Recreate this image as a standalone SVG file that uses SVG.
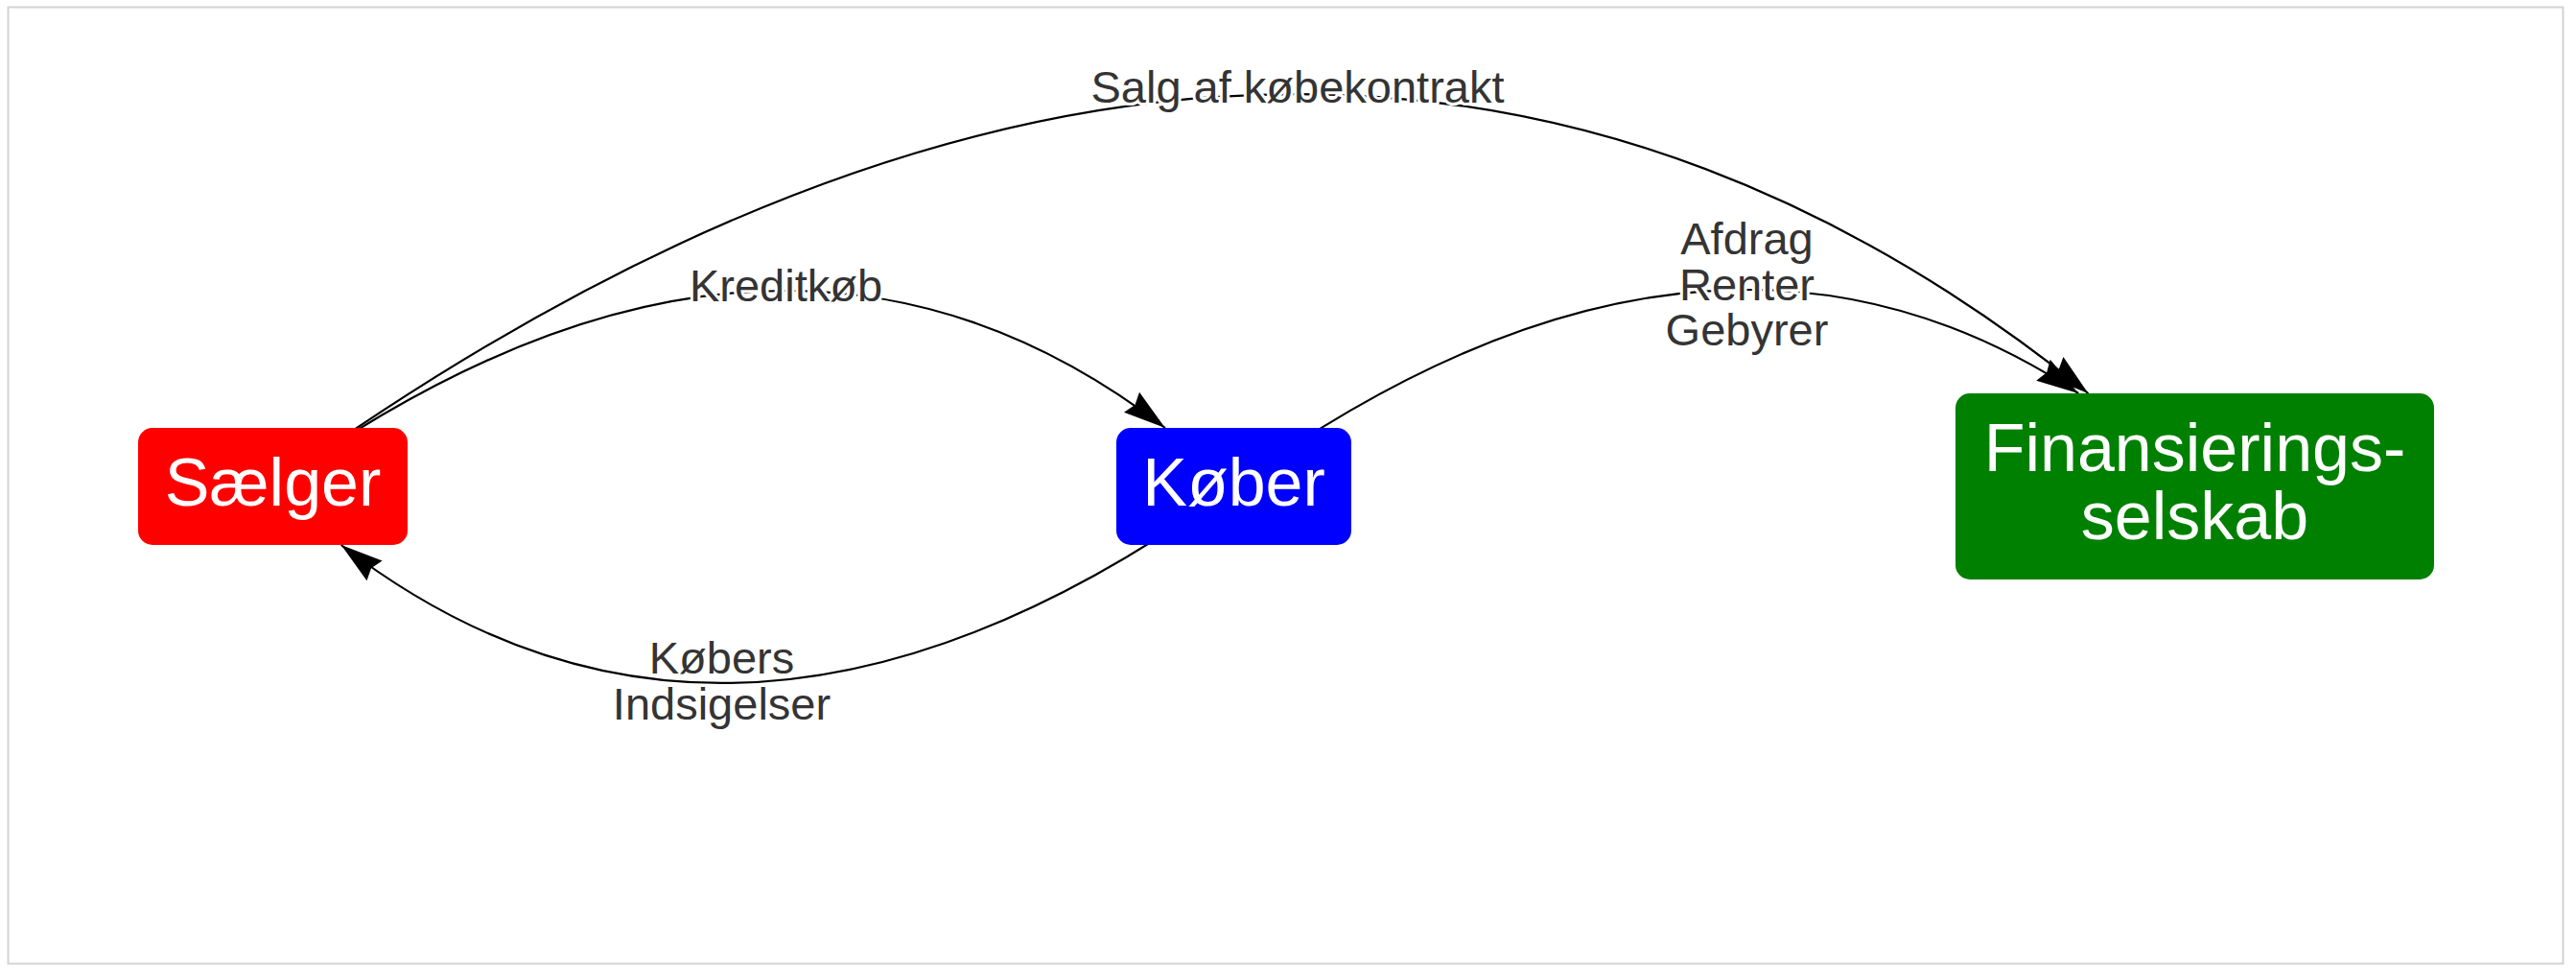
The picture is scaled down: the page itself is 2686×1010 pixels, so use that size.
<svg xmlns="http://www.w3.org/2000/svg" width="2686" height="1010" viewBox="0 0 2686 1010">
  <style>
    .edge { fill: none; stroke: #000000; stroke-width: 2.2; marker-end: url(#arr); }
    .elabel { font-family: "Liberation Sans", Arial, sans-serif; font-size: 47px; fill: #343434; stroke: #ffffff; stroke-width: 6; stroke-linejoin: round; paint-order: stroke; text-anchor: middle; }
    .nlabel { font-family: "Liberation Sans", Arial, sans-serif; font-size: 70px; fill: #ffffff; text-anchor: middle; }
  </style>
  <defs>
    <marker id="arr" viewBox="-46 -15 48 30" refX="0" refY="0" markerWidth="48" markerHeight="30" markerUnits="userSpaceOnUse" orient="auto">
      <path d="M0,0 L-44,13.2 L-39.6,0 L-44,-13.2 Z" fill="#000000"/>
    </marker>
  </defs>
  <rect x="0" y="0" width="2686" height="1010" fill="#ffffff"/>
  <rect x="8.5" y="7.5" width="2664" height="997" fill="none" stroke="#d3d3d3" stroke-width="2"/>

  <g id="connectors">
    <g id="edge-salg">
      <path class="edge" d="M284.5,507 Q1347.7,-259.2 2177.4,410"/>
      <text class="elabel" x="1353" y="107">Salg af købekontrakt</text>
    </g>
    <g id="edge-kreditkob">
      <path class="edge" d="M284.5,507 Q806.3,132.2 1214.9,446"/>
      <text class="elabel" x="819.5" y="314">Kreditkøb</text>
    </g>
    <g id="edge-afdrag">
      <path class="edge" d="M1286.5,507 Q1777.5,153.2 2167.2,410"/>
      <text class="elabel" x="1821.5" y="265">Afdrag</text>
      <text class="elabel" x="1821.5" y="313">Renter</text>
      <text class="elabel" x="1821.5" y="360">Gebyrer</text>
    </g>
    <g id="edge-indsigelser">
      <path class="edge" d="M1286.5,507 Q765.4,883.8 355.7,568"/>
      <text class="elabel" x="752.5" y="702">Købers</text>
      <text class="elabel" x="752.5" y="750">Indsigelser</text>
    </g>
  </g>

  <g id="node-saelger">
    <rect x="144" y="446" width="281" height="122" rx="15" ry="15" fill="#ff0000"/>
    <text class="nlabel" x="284.5" y="527">Sælger</text>
  </g>
  <g id="node-kober">
    <rect x="1164" y="446" width="245" height="122" rx="15" ry="15" fill="#0000ff"/>
    <text class="nlabel" x="1286.5" y="527">Køber</text>
  </g>
  <g id="node-finans">
    <rect x="2039" y="410" width="499" height="194" rx="15" ry="15" fill="#008000"/>
    <text class="nlabel" x="2288.5" y="491">Finansierings-</text>
    <text class="nlabel" x="2288.5" y="562">selskab</text>
  </g>
</svg>
